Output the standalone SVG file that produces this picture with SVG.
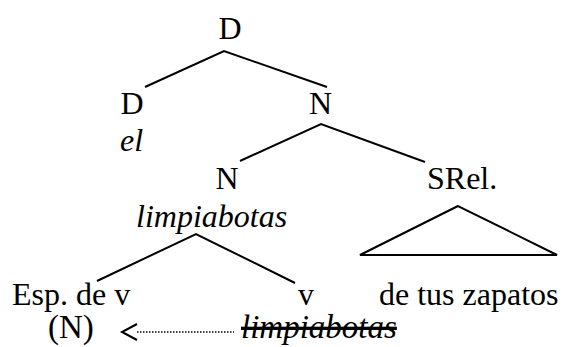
<svg xmlns="http://www.w3.org/2000/svg" width="564" height="347" viewBox="0 0 564 347">
<style>
text{font-family:'Liberation Serif','Times New Roman',serif;font-size:32px;fill:#000}
.i{font-style:italic}
.b{font-size:33px}
.l{stroke:#000;stroke-width:2;fill:none}
</style>
<rect width="564" height="347" fill="#fff"/>
<g id="connectors">
<polyline class="l" points="145,87 224,51 327,87"/>
<polyline class="l" points="240,161 321,124 425,162"/>
<polyline class="l" points="97,281 196,234 295,283"/>
<polygon class="l" points="458,206 360,255 557,255"/>
<line x1="137" y1="332" x2="234" y2="332" stroke="#000" stroke-width="1.5" stroke-dasharray="1.5,1.5"/>
<polyline points="137,324 122,332 137,340" fill="none" stroke="#000" stroke-width="2"/>
</g>
<g id="n-D-top"><text x="230" y="39" text-anchor="middle">D</text></g>
<g id="n-D-left"><text x="132" y="114" text-anchor="middle">D</text><text class="i" x="120" y="151">el</text></g>
<g id="n-N-top"><text x="320.5" y="114" text-anchor="middle">N</text></g>
<g id="n-N-mid"><text x="227" y="189" text-anchor="middle">N</text><text class="i" x="136" y="227">limpiabotas</text></g>
<g id="n-SRel"><text x="427" y="189">SRel.</text></g>
<g id="n-esp"><text x="12" y="305">Esp. de v</text><text class="b" x="48" y="338">(N)</text></g>
<g id="n-v"><text x="298" y="305">v</text><text class="i b" x="241" y="338" text-decoration="line-through">limpiabotas</text></g>
<g id="n-rel"><text x="379" y="305">de tus zapatos</text></g>
</svg>
